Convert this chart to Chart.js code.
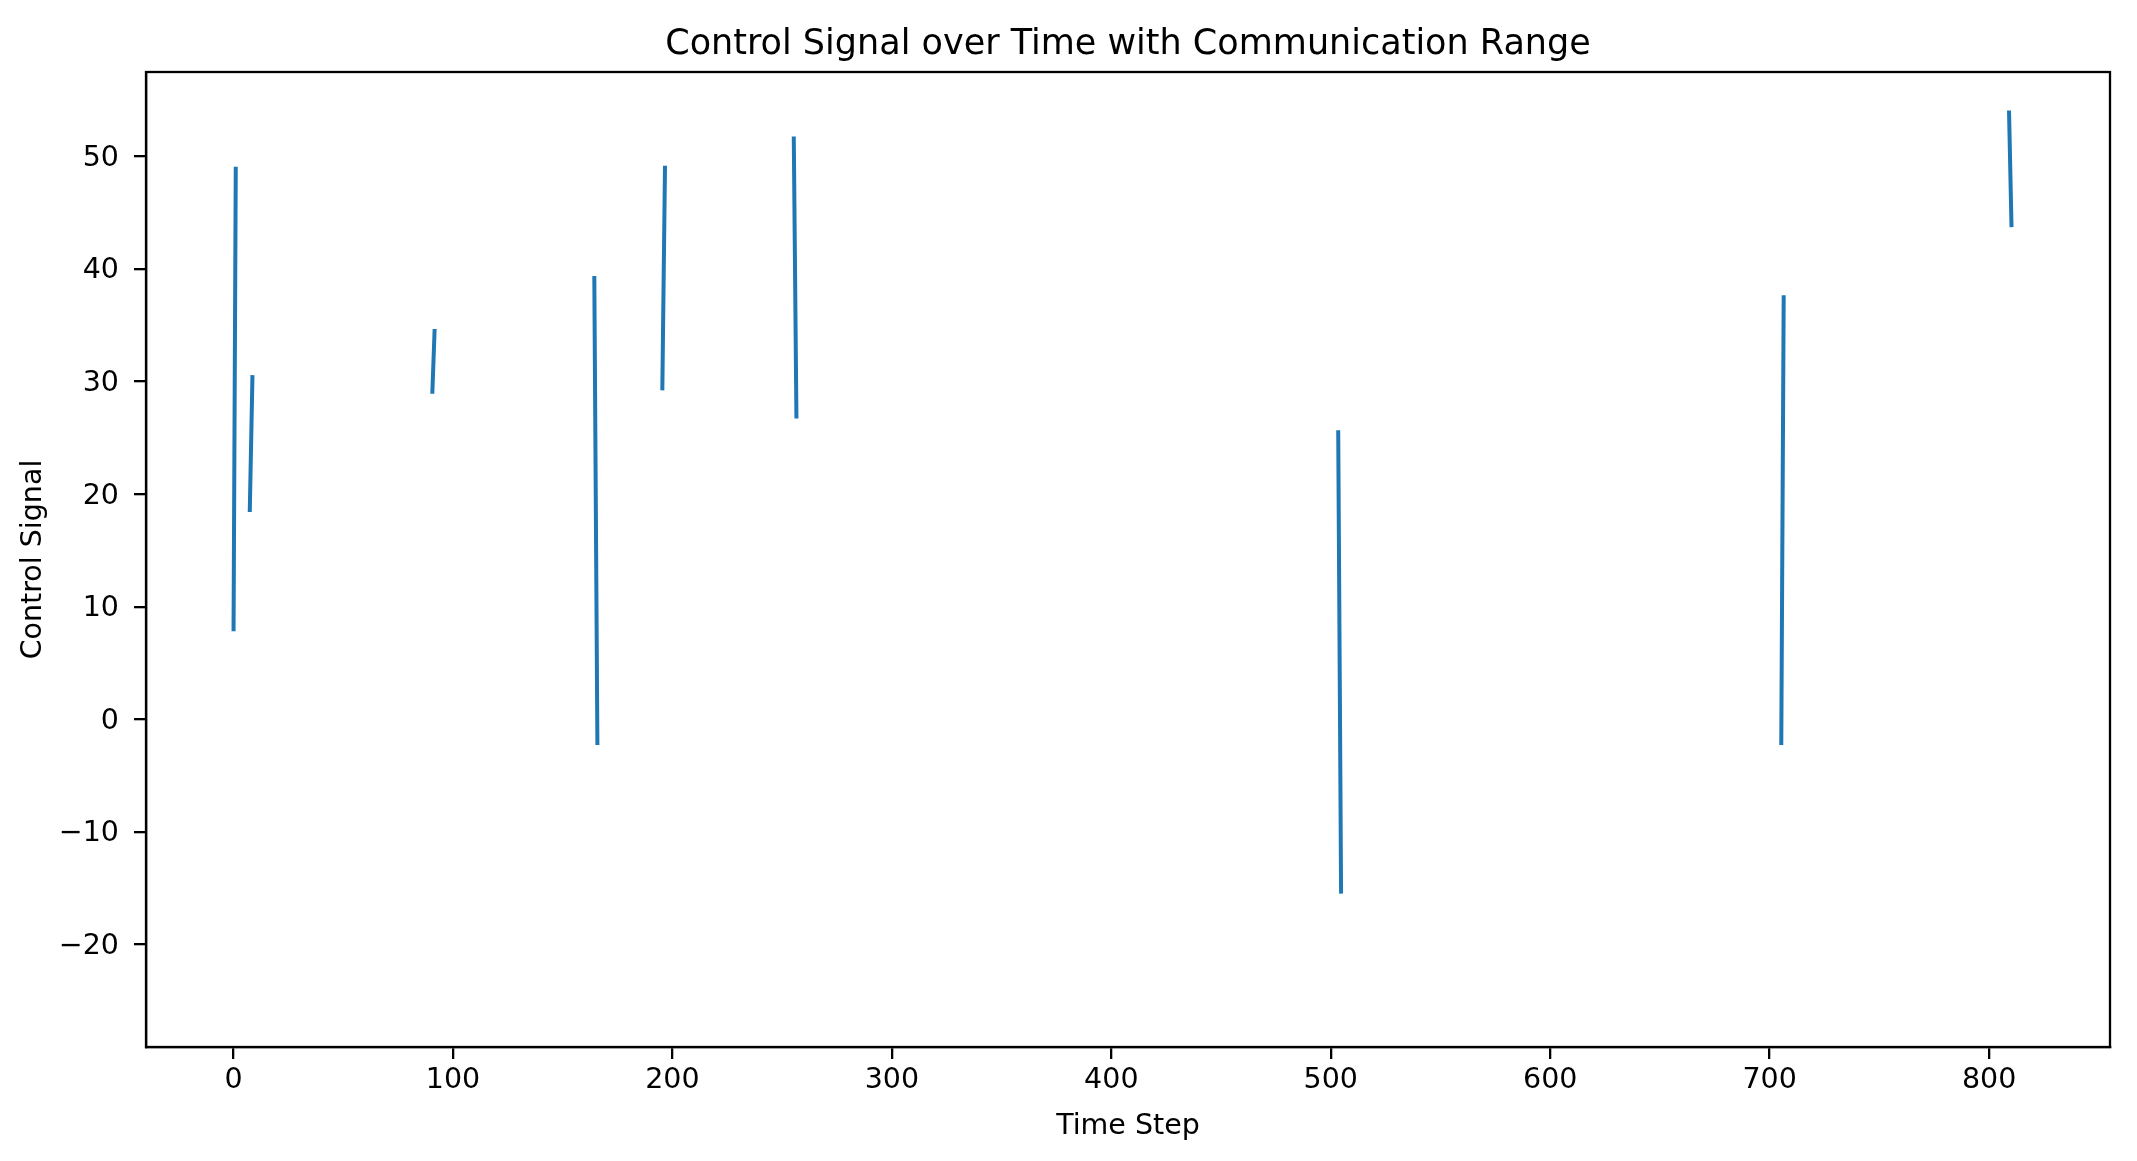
<!DOCTYPE html>
<html>
<head>
<meta charset="utf-8">
<title>Control Signal over Time with Communication Range</title>
<script src="https://cdn.jsdelivr.net/npm/chart.js@4.4.1/dist/chart.umd.min.js"></script>
<style>
  html, body { margin: 0; padding: 0; background: #ffffff; }
  #wrap { width: 2137px; height: 1161px; position: relative; }
</style>
</head>
<body>
<div id="wrap"><canvas id="chart"></canvas></div>
<script>
// each visible piece of the signal: two time steps and their values
const segmentTimes = [
  [0, 1], [7.4, 8.6], [90.6, 91.6], [164.4, 165.8], [195.4, 196.6],
  [255.3, 256.5], [503.4, 504.7], [705.3, 706.4], [809.1, 810.2]
];
const segmentValues = [
  [8.0, 48.9], [18.6, 30.4], [29.1, 34.5], [39.2, -2.1], [29.4, 49.0],
  [51.6, 26.9], [25.5, -15.3], [-2.1, 37.5], [53.9, 43.9]
];

const xTicks = [0, 100, 200, 300, 400, 500, 600, 700, 800];
const yTicks = [-20, -10, 0, 10, 20, 30, 40, 50];

// build one line with gaps between the pieces
let points = [];
for (let i = 0; i < segmentTimes.length; i++) {
  points.push({ x: segmentTimes[i][0], y: segmentValues[i][0] });
  points.push({ x: segmentTimes[i][1], y: segmentValues[i][1] });
  if (i < segmentTimes.length - 1) {
    points.push({ x: segmentTimes[i][1], y: null });
  }
}

const black = "#000000";
const fontFamily = "'DejaVu Sans', sans-serif";

// frame round the plot area, like the matplotlib spines
const frame = {
  id: "frame",
  afterDraw(chart) {
    const a = chart.chartArea;
    const ctx = chart.ctx;
    ctx.save();
    ctx.strokeStyle = black;
    ctx.lineWidth = 2.3;
    ctx.strokeRect(a.left, a.top, a.right - a.left, a.bottom - a.top);
    ctx.restore();
  }
};

new Chart(document.getElementById("chart").getContext("2d"), {
  type: "line",
  data: {
    datasets: [{
      label: "Control Signal",
      data: points,
      borderColor: "#1f77b4",
      borderWidth: 4,
      borderCapStyle: "square",
      pointRadius: 0,
      spanGaps: false,
      tension: 0,
      fill: false
    }]
  },
  options: {
    responsive: true,
    maintainAspectRatio: false,
    animation: false,
    layout: { padding: { left: 0, right: 27, top: 0, bottom: 0 } },
    plugins: {
      legend: { display: false },
      tooltip: { enabled: false },
      title: {
        display: true,
        fullSize: false,
        text: "Control Signal over Time with Communication Range",
        color: black,
        font: { family: fontFamily, size: 35, weight: "normal", lineHeight: 1.2 },
        padding: { top: 24, bottom: 6 }
      }
    },
    scales: {
      x: {
        type: "linear",
        min: -39.9,
        max: 855.1,
        afterBuildTicks: (scale) => { scale.ticks = xTicks.map(v => ({ value: v })); },
        afterFit: (scale) => { scale.height = 114; },
        grid: {
          drawOnChartArea: false,
          color: black,
          lineWidth: 2.3,
          tickLength: 12,
          tickColor: black
        },
        border: { display: true, color: black, width: 2.3 },
        ticks: {
          color: black,
          padding: 4,
          maxRotation: 0,
          font: { family: fontFamily, size: 28.5 }
        },
        title: {
          display: true,
          text: "Time Step",
          color: black,
          font: { family: fontFamily, size: 28.5, lineHeight: 1 },
          padding: { top: 0, bottom: 20 }
        }
      },
      y: {
        type: "linear",
        min: -29.1,
        max: 57.5,
        afterBuildTicks: (scale) => { scale.ticks = yTicks.map(v => ({ value: v })); },
        afterFit: (scale) => { scale.width = 146; },
        grid: {
          drawOnChartArea: false,
          color: black,
          lineWidth: 2.3,
          tickLength: 12,
          tickColor: black
        },
        border: { display: true, color: black, width: 2.3 },
        ticks: {
          color: black,
          padding: 15,
          labelOffset: 2,
          font: { family: fontFamily, size: 28.5 },
          callback: (v) => (v < 0 ? "\u2212" + Math.abs(v) : String(v))
        },
        title: {
          display: true,
          text: "Control Signal",
          color: black,
          font: { family: fontFamily, size: 28.5, lineHeight: 1 },
          padding: { top: 19, bottom: 0 }
        }
      }
    }
  },
  plugins: [frame]
});
</script>
</body>
</html>
